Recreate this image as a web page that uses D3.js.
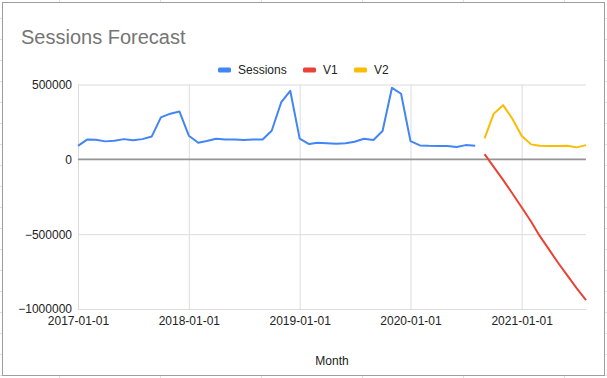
<!DOCTYPE html>
<html>
<head>
<meta charset="utf-8">
<script src="https://cdn.jsdelivr.net/npm/d3@7"></script>
<style>
  body { margin: 0; background: #fff; }
  svg { display: block; font-family: "Liberation Sans", Arial, sans-serif; }
</style>
</head>
<body>
<svg id="chart" width="607" height="378"></svg>
<script>
// Chart data
const sessionMonths = [
  "2017-01", "2017-02", "2017-03", "2017-04", "2017-05", "2017-06",
  "2017-07", "2017-08", "2017-09", "2017-10", "2017-11", "2017-12",
  "2018-01", "2018-02", "2018-03", "2018-04", "2018-05", "2018-06",
  "2018-07", "2018-08", "2018-09", "2018-10", "2018-11", "2018-12",
  "2019-01", "2019-02", "2019-03", "2019-04", "2019-05", "2019-06",
  "2019-07", "2019-08", "2019-09", "2019-10", "2019-11", "2019-12",
  "2020-01", "2020-02", "2020-03", "2020-04", "2020-05", "2020-06",
  "2020-07", "2020-08"
]
const sessions = [
  90000, 133000, 131000, 120000, 124000, 135000, 127000, 135000, 153000, 280000, 305000, 320000,
  158000, 111000, 122000, 138000, 133000, 133000, 129000, 133000, 133000, 191000, 380000, 458000,
  138000, 102000, 111000, 107000, 104000, 107000, 118000, 138000, 129000, 189000, 478000, 438000,
  122000, 93000, 90000, 89000, 89000, 83000, 95000, 91000
]
const forecastMonths = [
  "2020-09", "2020-10", "2020-11", "2020-12", "2021-01", "2021-02",
  "2021-03", "2021-04", "2021-05", "2021-06", "2021-07", "2021-08"
]
const v1 = [35000, -50000, -137000, -227000, -320000, -415000, -510000, -602000, -691000, -777000, -860000, -940000]
const v2 = [140000, 305000, 362000, 273000, 158000, 100000, 91000, 89000, 89000, 91000, 80000, 95000]

const xTicks = ["2017-01-01", "2018-01-01", "2019-01-01", "2020-01-01", "2021-01-01"]
const yTicks = [500000, 0, -500000, -1000000]
const xDomain = ["2017-01-01", "2021-08-01"]

const seriesNames = ["Sessions", "V1", "V2"]
const colors = ["#4285f4", "#ea4335", "#fbbc04"]

const parseMonth = d3.timeParse("%Y-%m")
const parseDay = d3.timeParse("%Y-%m-%d")

const svg = d3.select("#chart")

// spreadsheet cells behind the chart
const sheet = svg.append("g").attr("stroke", "#e0e0e0").attr("stroke-width", 1)
for (let gx = 59; gx < 607; gx += 101) {
  sheet.append("line").attr("x1", gx + 0.5).attr("x2", gx + 0.5).attr("y1", 0).attr("y2", 378)
}
for (let gy = 18; gy < 378; gy += 21) {
  sheet.append("line").attr("x1", 0).attr("x2", 607).attr("y1", gy + 0.5).attr("y2", gy + 0.5)
}

// chart box
svg.append("rect")
  .attr("x", 2.5).attr("y", 2.5)
  .attr("width", 602).attr("height", 373)
  .attr("fill", "#fff")
  .attr("stroke", "#9e9e9e")

const plotLeft = 78, plotRight = 586, plotTop = 84.5, plotBottom = 309

const x = d3.scaleTime()
  .domain(xDomain.map(parseDay))
  .range([plotLeft, plotRight])
const y = d3.scaleLinear()
  .domain([-1000000, 500000])
  .range([plotBottom, plotTop])

// grid
svg.append("g")
  .attr("transform", `translate(0,${plotBottom})`)
  .call(d3.axisBottom(x).tickValues(xTicks.map(parseDay)).tickSize(-(plotBottom - plotTop)).tickFormat(""))
  .call(g => g.select(".domain").remove())
  .call(g => g.selectAll("line").attr("stroke", "#dcdcdc"))

svg.append("g")
  .attr("transform", `translate(${plotLeft},0)`)
  .call(d3.axisLeft(y).tickValues(yTicks.filter(d => d !== 0)).tickSize(-(plotRight - plotLeft)).tickFormat(""))
  .call(g => g.select(".domain").remove())
  .call(g => g.selectAll("line").attr("stroke", "#dcdcdc"))

// axis labels
svg.append("g")
  .attr("transform", `translate(${plotLeft},0)`)
  .call(d3.axisLeft(y).tickValues(yTicks).tickSize(0).tickPadding(6).tickFormat(d3.format("d")))
  .call(g => g.select(".domain").remove())
  .call(g => g.selectAll("text")
    .attr("font-size", 12)
    .attr("font-family", "Liberation Sans, Arial, sans-serif")
    .attr("fill", "#222"))

svg.append("g")
  .attr("transform", `translate(0,${plotBottom})`)
  .call(d3.axisBottom(x).tickValues(xTicks.map(parseDay)).tickSize(0).tickPadding(7).tickFormat(d3.timeFormat("%Y-%m-%d")))
  .call(g => g.select(".domain").remove())
  .call(g => g.selectAll("text")
    .attr("font-size", 12)
    .attr("font-family", "Liberation Sans, Arial, sans-serif")
    .attr("fill", "#222"))

// zero baseline
svg.append("line")
  .attr("x1", plotLeft).attr("x2", plotRight)
  .attr("y1", y(0)).attr("y2", y(0))
  .attr("stroke", "#959595")
  .attr("stroke-width", 1.6)

// lines
const line = d3.line()
  .x(d => x(d[0]))
  .y(d => y(d[1]))

const series = [
  sessionMonths.map((m, i) => [parseMonth(m), sessions[i]]),
  forecastMonths.map((m, i) => [parseMonth(m), v1[i]]),
  forecastMonths.map((m, i) => [parseMonth(m), v2[i]])
]

svg.append("g").selectAll("path")
  .data(series)
  .join("path")
    .attr("d", line)
    .attr("fill", "none")
    .attr("stroke", (d, i) => colors[i])
    .attr("stroke-width", 2)
    .attr("stroke-linejoin", "round")

// title
svg.append("text")
  .attr("x", 21).attr("y", 44)
  .attr("font-size", 20)
  .attr("fill", "#757575")
  .text("Sessions Forecast")

// legend
const legendX = [218, 303, 354]
const legend = svg.append("g").selectAll("g")
  .data(seriesNames)
  .join("g")
    .attr("transform", (d, i) => `translate(${legendX[i]},70)`)
legend.append("rect")
  .attr("x", 0).attr("y", -2.5)
  .attr("width", 13).attr("height", 5)
  .attr("rx", 1.5)
  .attr("fill", (d, i) => colors[i])
legend.append("text")
  .attr("x", 20).attr("y", 4.3)
  .attr("font-size", 12)
  .attr("fill", "#222")
  .text(d => d)

// x axis title
svg.append("text")
  .attr("x", (plotLeft + plotRight) / 2).attr("y", 365)
  .attr("text-anchor", "middle")
  .attr("font-size", 12)
  .attr("fill", "#222")
  .text("Month")
</script>
</body>
</html>
